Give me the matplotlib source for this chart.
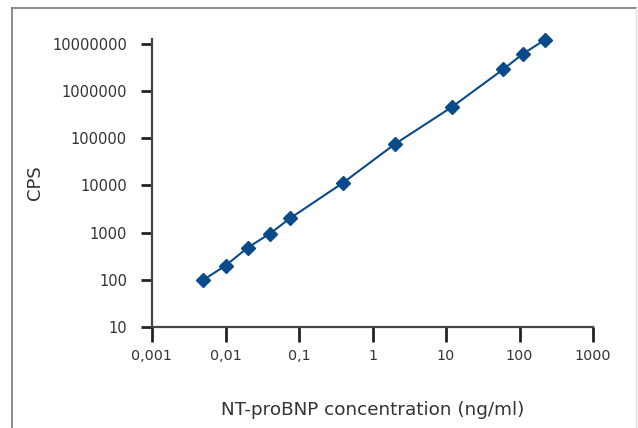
import matplotlib
matplotlib.use("Agg")
import matplotlib.pyplot as plt
from matplotlib.lines import Line2D
from matplotlib.ticker import FixedLocator, FixedFormatter, NullLocator

# calibration points
conc = [0.005, 0.01, 0.02, 0.04, 0.075, 0.4, 2.0, 12.0, 60.0, 110.0, 220.0]
cps = [100, 200, 480, 950, 2000, 11500, 75000, 460000, 2900000, 6100000, 12200000]

xticks = [0.001, 0.01, 0.1, 1, 10, 100, 1000]
xtick_labels = ["0,001", "0,01", "0,1", "1", "10", "100", "1000"]
yticks = [10, 100, 1000, 10000, 100000, 1000000, 10000000]
ytick_labels = ["10", "100", "1000", "10000", "100000", "1000000", "10000000"]

text_color = "#333333"
axis_color = "#444444"
line_color = "#0b4a8b"

plt.rcParams["font.family"] = ["DejaVu Sans"]

fig = plt.figure(figsize=(6.38, 4.28), dpi=100)
ax = fig.add_axes([152 / 638, 1 - 327 / 428, (593 - 152) / 638, (327 - 39) / 428])

ax.plot(conc, cps, color=line_color, linewidth=1.5, marker="D", markersize=7.2,
        markerfacecolor=line_color, markeredgecolor=line_color, clip_on=False)

ax.set_xscale("log")
ax.set_yscale("log")
ax.set_xlim(0.001, 1000)
ax.set_ylim(10, 10 ** 7.106)

ax.xaxis.set_major_locator(FixedLocator(xticks))
ax.xaxis.set_major_formatter(FixedFormatter(xtick_labels))
ax.xaxis.set_minor_locator(NullLocator())
ax.yaxis.set_major_locator(FixedLocator(yticks))
ax.yaxis.set_major_formatter(FixedFormatter(ytick_labels))
ax.yaxis.set_minor_locator(NullLocator())

for side in ("top", "right"):
    ax.spines[side].set_visible(False)
for side in ("left", "bottom"):
    ax.spines[side].set_color(axis_color)
    ax.spines[side].set_linewidth(1.6)

ax.tick_params(axis="x", length=11, width=2, color="#222222", pad=5,
               labelsize=10.3, labelcolor=text_color)
ax.tick_params(axis="y", length=8, width=2, color="#222222", pad=10,
               labelsize=10.5, labelcolor=text_color)

ax.set_xlabel("NT-proBNP concentration (ng/ml)", fontsize=13.2, color=text_color, labelpad=27)
ax.set_ylabel("CPS", fontsize=13, color=text_color, labelpad=6)

# outer frame around the chart (open at the bottom edge)
fig.add_artist(Line2D([12 / 638, 12 / 638], [0, 1 - 8 / 428], transform=fig.transFigure,
                      color="#777777", linewidth=1.2))
fig.add_artist(Line2D([12 / 638, 636 / 638], [1 - 8 / 428, 1 - 8 / 428], transform=fig.transFigure,
                      color="#777777", linewidth=1.2))
fig.add_artist(Line2D([636 / 638, 636 / 638], [0, 1 - 8 / 428], transform=fig.transFigure,
                      color="#dddddd", linewidth=1.0))

fig.savefig("out.png", dpi=100)
plt.close(fig)
